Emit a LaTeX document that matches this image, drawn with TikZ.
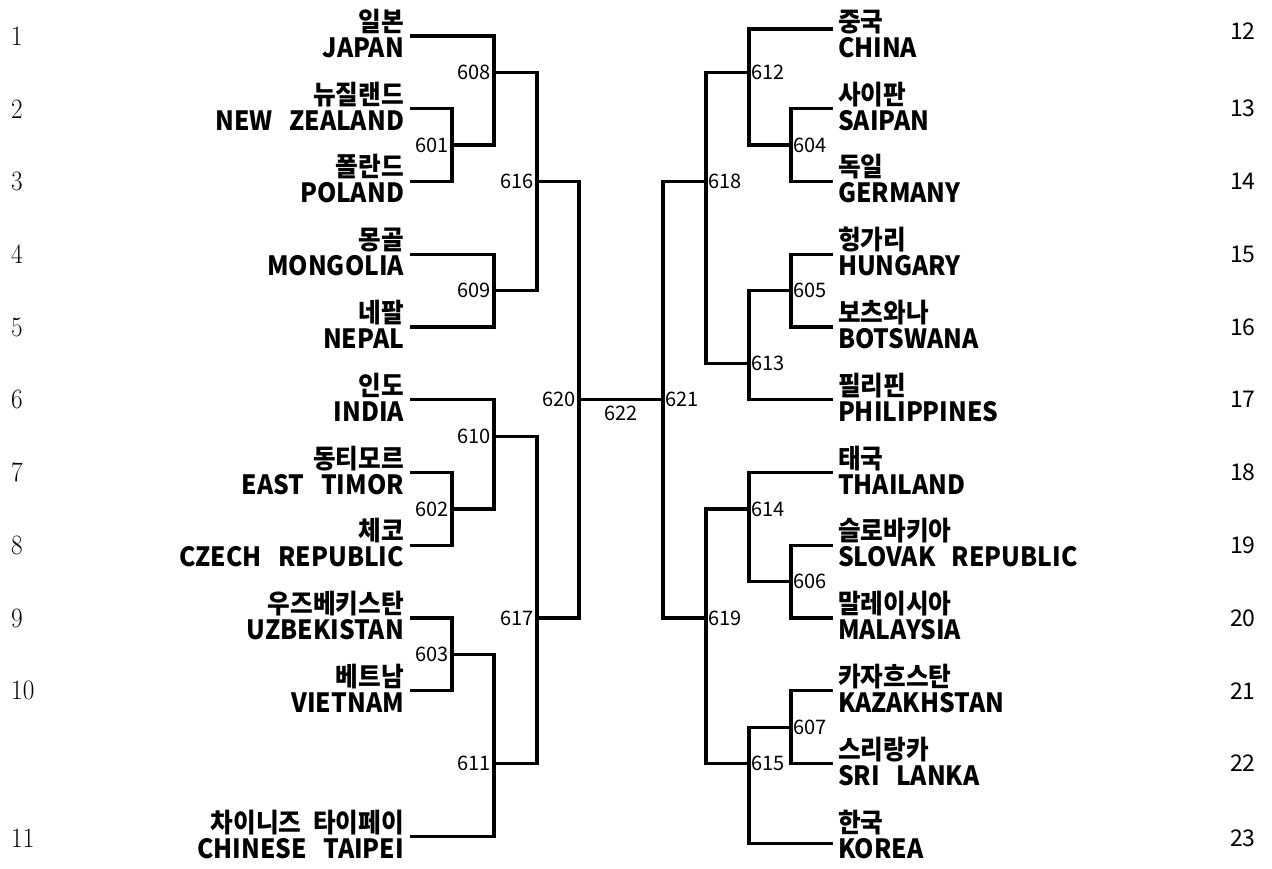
\documentclass[tikz,border=0pt]{standalone}
\usepackage{fontspec}
\newfontfamily\krfont[FakeStretch=0.93]{Noto Sans CJK KR}
\newfontfamily\krthin{Noto Sans CJK KR}
\newfontfamily\lmnum[FakeStretch=0.9]{Latin Modern Roman}
\newcommand{\team}[2]{\rule{0pt}{24pt}#1\\#2\rule[-7pt]{0pt}{7pt}}
\newcommand{\wsp}{\hspace{0.62em}}
\begin{document}
\begin{tikzpicture}[x=1pt,y=-1pt,
  wire/.style={line width=3.2pt, line join=miter},
  lteam/.style={anchor=east, align=right, inner sep=0pt, outer xsep=6pt,
    font=\krfont\bfseries\fontsize{26.5}{26}\selectfont},
  rteam/.style={anchor=west, align=left, inner sep=0pt, outer xsep=5pt,
    font=\krfont\bfseries\fontsize{26.5}{26}\selectfont},
  llab/.style={anchor=east, inner sep=0pt, font=\krthin\fontsize{20}{20}\selectfont},
  rlab/.style={anchor=west, inner sep=0pt, font=\krthin\fontsize{20}{20}\selectfont},
  lnum/.style={anchor=west, inner sep=0pt, font=\lmnum\fontsize{28}{28}\selectfont},
  rnum/.style={anchor=west, inner sep=0pt, font=\krthin\fontsize{23}{23}\selectfont}]
\useasboundingbox (0,0) rectangle (1272,869);

% seed numbers
\node[lnum] (n1) at (11,36) {1};
\node[lnum] (n2) at (11,108.75) {2};
\node[lnum] (n3) at (11,181.5) {3};
\node[lnum] (n4) at (11,254.25) {4};
\node[lnum] (n5) at (11,327) {5};
\node[lnum] (n6) at (11,399.75) {6};
\node[lnum] (n7) at (11,472.5) {7};
\node[lnum] (n8) at (11,545.25) {8};
\node[lnum] (n9) at (11,618) {9};
\node[lnum] (n10) at (11,690.75) {10};
\node[lnum] (n11) at (11,838) {11};
\node[rnum] (n12) at (1230,31) {12};
\node[rnum] (n13) at (1230,108.75) {13};
\node[rnum] (n14) at (1230,181.5) {14};
\node[rnum] (n15) at (1230,254.25) {15};
\node[rnum] (n16) at (1230,327) {16};
\node[rnum] (n17) at (1230,399.75) {17};
\node[rnum] (n18) at (1230,472.5) {18};
\node[rnum] (n19) at (1230,545.25) {19};
\node[rnum] (n20) at (1230,618) {20};
\node[rnum] (n21) at (1230,690.75) {21};
\node[rnum] (n22) at (1230,763.5) {22};
\node[rnum] (n23) at (1230,838) {23};

% left teams
\node[lteam] (jpn) at (410,36) {\team{일본}{JAPAN}};
\node[lteam] (nzl) at (410,108.75) {\team{뉴질랜드}{NEW\wsp ZEALAND}};
\node[lteam] (pol) at (410,181.5) {\team{폴란드}{POLAND}};
\node[lteam] (mgl) at (410,254.25) {\team{몽골}{MONGOLIA}};
\node[lteam] (nep) at (410,327) {\team{네팔}{NEPAL}};
\node[lteam] (ind) at (410,399.75) {\team{인도}{INDIA}};
\node[lteam] (tls) at (410,472.5) {\team{동티모르}{EAST\wsp TIMOR}};
\node[lteam] (cze) at (410,545.25) {\team{체코}{CZECH\wsp REPUBLIC}};
\node[lteam] (uzb) at (410,618) {\team{우즈베키스탄}{UZBEKISTAN}};
\node[lteam] (vie) at (410,690.75) {\team{베트남}{VIETNAM}};
\node[lteam] (tpe) at (410,836.5) {\team{차이니즈\hspace{0.45em}타이페이}{CHINESE\wsp TAIPEI}};

% right teams
\node[rteam] (chn) at (833,36) {\team{중국}{CHINA}};
\node[rteam] (sai) at (833,108.75) {\team{사이판}{SAIPAN}};
\node[rteam] (ger) at (833,181.5) {\team{독일}{GERMANY}};
\node[rteam] (hun) at (833,254.25) {\team{헝가리}{HUNGARY}};
\node[rteam] (bot) at (833,327) {\team{보츠와나}{BOTSWANA}};
\node[rteam] (phi) at (833,399.75) {\team{필리핀}{PHILIPPINES}};
\node[rteam] (tha) at (833,472.5) {\team{태국}{THAILAND}};
\node[rteam] (svk) at (833,545.25) {\team{슬로바키아}{SLOVAK\wsp REPUBLIC}};
\node[rteam] (mas) at (833,618) {\team{말레이시아}{MALAYSIA}};
\node[rteam] (kaz) at (833,690.75) {\team{카자흐스탄}{KAZAKHSTAN}};
\node[rteam] (sri) at (833,763.5) {\team{스리랑카}{SRI\wsp LANKA}};
\node[rteam] (kor) at (833,836.5) {\team{한국}{KOREA}};

% junctions
\coordinate (j601) at (452,145.1);
\coordinate (j602) at (452,508.9);
\coordinate (j603) at (452,654.4);
\coordinate (j608) at (494,72.4);
\coordinate (j609) at (494,290.6);
\coordinate (j610) at (494,436.1);
\coordinate (j611) at (494,763.5);
\coordinate (j616) at (537,181.5);
\coordinate (j617) at (537,618);
\coordinate (j620) at (579,399.75);
\coordinate (j621) at (663,399.75);
\coordinate (j618) at (706,181.5);
\coordinate (j619) at (706,618);
\coordinate (j612) at (749,72.4);
\coordinate (j613) at (749,363.4);
\coordinate (j614) at (749,508.9);
\coordinate (j615) at (749,763.5);
\coordinate (j604) at (791,145.1);
\coordinate (j605) at (791,290.6);
\coordinate (j606) at (791,581.6);
\coordinate (j607) at (791,727.1);

% left brackets
\draw[wire] (nzl.east) -| (j601) |- (pol.east);
\draw[wire] (tls.east) -| (j602) |- (cze.east);
\draw[wire] (uzb.east) -| (j603) |- (vie.east);
\draw[wire] (jpn.east) -| (j608) |- (j601);
\draw[wire] (mgl.east) -| (j609) |- (nep.east);
\draw[wire] (ind.east) -| (j610) |- (j602);
\draw[wire] (j603) -| (j611) |- (tpe.east);
\draw[wire] (j608) -| (j616) |- (j609);
\draw[wire] (j610) -| (j617) |- (j611);
\draw[wire] (j616) -| (j620) |- (j617);
\draw[wire] (j620) -- (j621);
% right brackets
\draw[wire] (sai.west) -| (j604) |- (ger.west);
\draw[wire] (hun.west) -| (j605) |- (bot.west);
\draw[wire] (svk.west) -| (j606) |- (mas.west);
\draw[wire] (kaz.west) -| (j607) |- (sri.west);
\draw[wire] ([yshift=7pt]chn.west) -| (j612) |- (j604);
\draw[wire] (j605) -| (j613) |- (phi.west);
\draw[wire] (tha.west) -| (j614) |- (j606);
\draw[wire] (j607) -| (j615) |- ([yshift=-7pt]kor.west);
\draw[wire] (j612) -| (j618) |- (j613);
\draw[wire] (j614) -| (j619) |- (j615);
\draw[wire] (j618) -| (j621) |- (j619);

% match labels
\node[llab] (l601) at ([xshift=-3.5pt]j601) {601};
\node[llab] (l602) at ([xshift=-3.5pt]j602) {602};
\node[llab] (l603) at ([xshift=-3.5pt]j603) {603};
\node[llab] (l608) at ([xshift=-3.5pt]j608) {608};
\node[llab] (l609) at ([xshift=-3.5pt]j609) {609};
\node[llab] (l610) at ([xshift=-3.5pt]j610) {610};
\node[llab] (l611) at ([xshift=-3.5pt]j611) {611};
\node[llab] (l616) at ([xshift=-3.5pt]j616) {616};
\node[llab] (l617) at ([xshift=-3.5pt]j617) {617};
\node[llab] (l620) at ([xshift=-3.5pt]j620) {620};
\node[rlab] (l621) at ([xshift=2.5pt]j621) {621};
\node[rlab] (l618) at ([xshift=2.5pt]j618) {618};
\node[rlab] (l619) at ([xshift=2.5pt]j619) {619};
\node[rlab] (l612) at ([xshift=2.5pt]j612) {612};
\node[rlab] (l613) at ([xshift=2.5pt]j613) {613};
\node[rlab] (l614) at ([xshift=2.5pt]j614) {614};
\node[rlab] (l615) at ([xshift=2.5pt]j615) {615};
\node[rlab] (l604) at ([xshift=2.5pt]j604) {604};
\node[rlab] (l605) at ([xshift=2.5pt]j605) {605};
\node[rlab] (l606) at ([xshift=2.5pt]j606) {606};
\node[rlab] (l607) at ([xshift=2.5pt]j607) {607};
\node[anchor=north, inner sep=0pt, font=\krthin\fontsize{20}{20}\selectfont] (l622) at (621,406) {622};
\end{tikzpicture}
\end{document}
